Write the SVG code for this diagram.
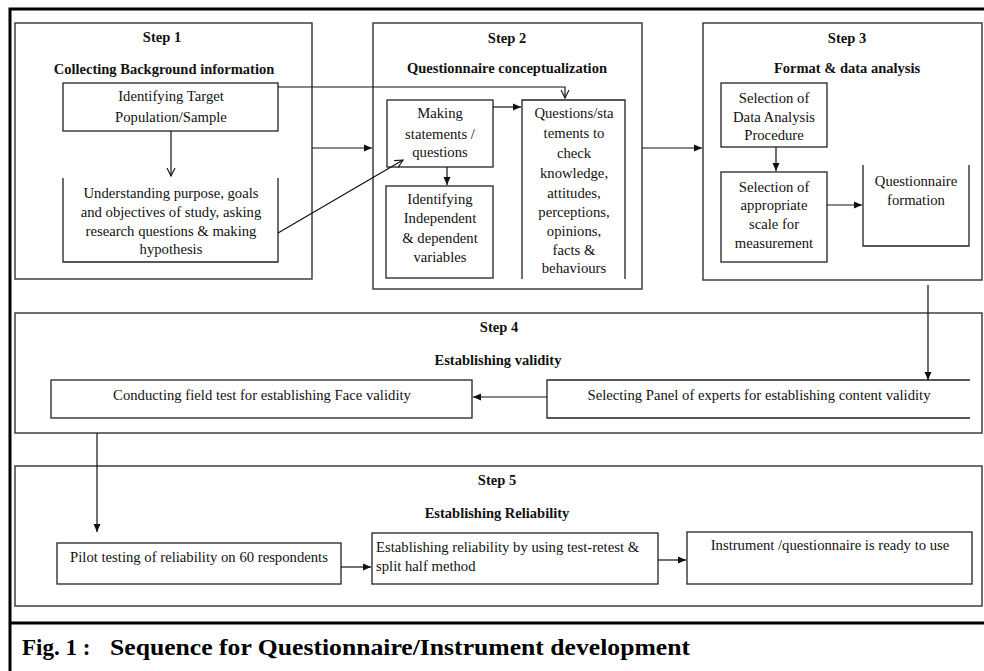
<svg xmlns="http://www.w3.org/2000/svg" width="984" height="671" viewBox="0 0 984 671">
<defs>
<marker id="fa" markerUnits="userSpaceOnUse" markerWidth="9" markerHeight="8" refX="8" refY="4" orient="auto">
<path d="M0,0.5 L8,4 L0,7.5 Z" fill="#111"/>
</marker>
<marker id="oa" markerUnits="userSpaceOnUse" markerWidth="10" markerHeight="10" refX="8" refY="5" orient="auto">
<path d="M0,1 L8,5 L0,9" fill="none" stroke="#111" stroke-width="1.1"/>
</marker>
</defs>
<style>
.frame{fill:none;stroke:#000;stroke-width:3}
.step{fill:none;stroke:#333;stroke-width:1.4}
.box{fill:none;stroke:#222;stroke-width:1.3}
.t{font-family:"Liberation Serif","Times New Roman",serif;font-size:14.7px;fill:#111;text-anchor:middle}
.h{font-family:"Liberation Serif","Times New Roman",serif;font-size:14.5px;font-weight:bold;fill:#111;text-anchor:middle}
.l{text-anchor:start}
.c{stroke:#111;stroke-width:1.2;fill:none}
.cap{font-family:"Liberation Serif","Times New Roman",serif;font-size:23px;font-weight:bold;fill:#000}
</style>
<rect width="984" height="671" fill="#fff"/>
<g id="frame">
<path class="frame" d="M10,671 V9 H984 M9,623 H984"/>
</g>
<g id="step1">
<rect class="step" x="15" y="23" width="297" height="256"/>
<text class="h" x="162" y="42">Step 1</text>
<text class="h" x="164" y="74">Collecting Background information</text>
</g>
<g id="n-target">
<rect class="box" x="63" y="83" width="215" height="48"/>
<text class="t" x="171" y="101">Identifying Target</text>
<text class="t" x="171" y="122">Population/Sample</text>
</g>
<g id="n-understanding">
<path class="box" d="M63,178 V262 H278 V178"/>
<text class="t" x="171" y="198">Understanding purpose, goals</text>
<text class="t" x="171" y="217">and objectives of study, asking</text>
<text class="t" x="171" y="236">research questions &amp; making</text>
<text class="t" x="171" y="254">hypothesis</text>
</g>
<g id="step2">
<rect class="step" x="373" y="23" width="269" height="266"/>
<text class="h" x="507" y="43">Step 2</text>
<text class="h" x="507" y="73">Questionnaire conceptualization</text>
</g>
<g id="n-making">
<rect class="box" x="387" y="100" width="106" height="67"/>
<text class="t" x="440" y="118">Making</text>
<text class="t" x="440" y="139">statements /</text>
<text class="t" x="440" y="157">questions</text>
</g>
<g id="n-questions">
<path class="box" d="M522,279 V100 H625 V279"/>
<text class="t" x="574" y="118">Questions/sta</text>
<text class="t" x="574" y="138">tements to</text>
<text class="t" x="574" y="158">check</text>
<text class="t" x="574" y="178">knowledge,</text>
<text class="t" x="574" y="198">attitudes,</text>
<text class="t" x="574" y="217">perceptions,</text>
<text class="t" x="574" y="236">opinions,</text>
<text class="t" x="574" y="255">facts &amp;</text>
<text class="t" x="574" y="273">behaviours</text>
</g>
<g id="n-variables">
<rect class="box" x="386" y="186" width="107" height="92"/>
<text class="t" x="440" y="204">Identifying</text>
<text class="t" x="440" y="223">Independent</text>
<text class="t" x="440" y="243">&amp; dependent</text>
<text class="t" x="440" y="262">variables</text>
</g>
<g id="step3">
<rect class="step" x="703" y="23" width="279" height="257"/>
<text class="h" x="847" y="43">Step 3</text>
<text class="h" x="847" y="73">Format &amp; data analysis</text>
</g>
<g id="n-procedure">
<rect class="box" x="721" y="83" width="106" height="64"/>
<text class="t" x="774" y="103">Selection of</text>
<text class="t" x="774" y="122">Data Analysis</text>
<text class="t" x="774" y="140">Procedure</text>
</g>
<g id="n-scale">
<rect class="box" x="721" y="172" width="106" height="90"/>
<text class="t" x="774" y="192">Selection of</text>
<text class="t" x="774" y="210">appropriate</text>
<text class="t" x="774" y="229">scale for</text>
<text class="t" x="774" y="248">measurement</text>
</g>
<g id="n-formation">
<path class="box" d="M863,165 V246 H969 V165"/>
<text class="t" x="916" y="186">Questionnaire</text>
<text class="t" x="916" y="205">formation</text>
</g>
<g id="step4">
<rect class="step" x="15" y="313" width="967" height="120"/>
<text class="h" x="499" y="332">Step 4</text>
<text class="h" x="498" y="365">Establishing validity</text>
</g>
<g id="n-face">
<rect class="box" x="51" y="380" width="421" height="38"/>
<text class="t" x="262" y="400">Conducting field test for establishing Face validity</text>
</g>
<g id="n-panel">
<path class="box" d="M970,380 H547 V418 H970"/>
<text class="t" x="759" y="400">Selecting Panel of experts for establishing content validity</text>
</g>
<g id="step5">
<rect class="step" x="15" y="466" width="967" height="140"/>
<text class="h" x="497" y="485">Step 5</text>
<text class="h" x="497" y="518">Establishing Reliability</text>
</g>
<g id="n-pilot">
<rect class="box" x="57" y="543" width="284" height="41"/>
<text class="t" x="199" y="562">Pilot testing of reliability on 60 respondents</text>
</g>
<g id="n-retest">
<rect class="box" x="372" y="533" width="286" height="51"/>
<text class="t l" x="376" y="552">Establishing reliability by using test-retest &amp;</text>
<text class="t l" x="376" y="571">split half method</text>
</g>
<g id="n-ready">
<rect class="box" x="687" y="532" width="285" height="52"/>
<text class="t" x="830" y="550">Instrument /questionnaire is ready to use</text>
</g>
<g id="connectors">
<line class="c" x1="171" y1="131" x2="171" y2="176" marker-end="url(#oa)"/>
<path class="c" d="M278,87 H565 V98" marker-end="url(#oa)"/>
<line class="c" x1="312" y1="148" x2="372" y2="148" marker-end="url(#fa)"/>
<line class="c" x1="278" y1="233" x2="403" y2="160" marker-end="url(#oa)"/>
<line class="c" x1="493" y1="107" x2="521" y2="107" marker-end="url(#fa)"/>
<line class="c" x1="447" y1="167" x2="447" y2="185" marker-end="url(#fa)"/>
<line class="c" x1="642" y1="148" x2="702" y2="148" marker-end="url(#fa)"/>
<line class="c" x1="776" y1="147" x2="776" y2="171" marker-end="url(#fa)"/>
<line class="c" x1="827" y1="205" x2="862" y2="205" marker-end="url(#fa)"/>
<line class="c" x1="928" y1="285" x2="928" y2="380" marker-end="url(#fa)"/>
<line class="c" x1="547" y1="397" x2="473" y2="397" marker-end="url(#fa)"/>
<line class="c" x1="97" y1="433" x2="97" y2="532" marker-end="url(#fa)"/>
<line class="c" x1="341" y1="567" x2="371" y2="567" marker-end="url(#fa)"/>
<line class="c" x1="658" y1="560" x2="686" y2="560" marker-end="url(#fa)"/>
</g>
<g id="caption">
<text class="cap" x="22" y="655">Fig. 1 :</text>
<text class="cap" x="110" y="655" textLength="580" lengthAdjust="spacingAndGlyphs">Sequence for Questionnaire/Instrument development</text>
</g>
</svg>
